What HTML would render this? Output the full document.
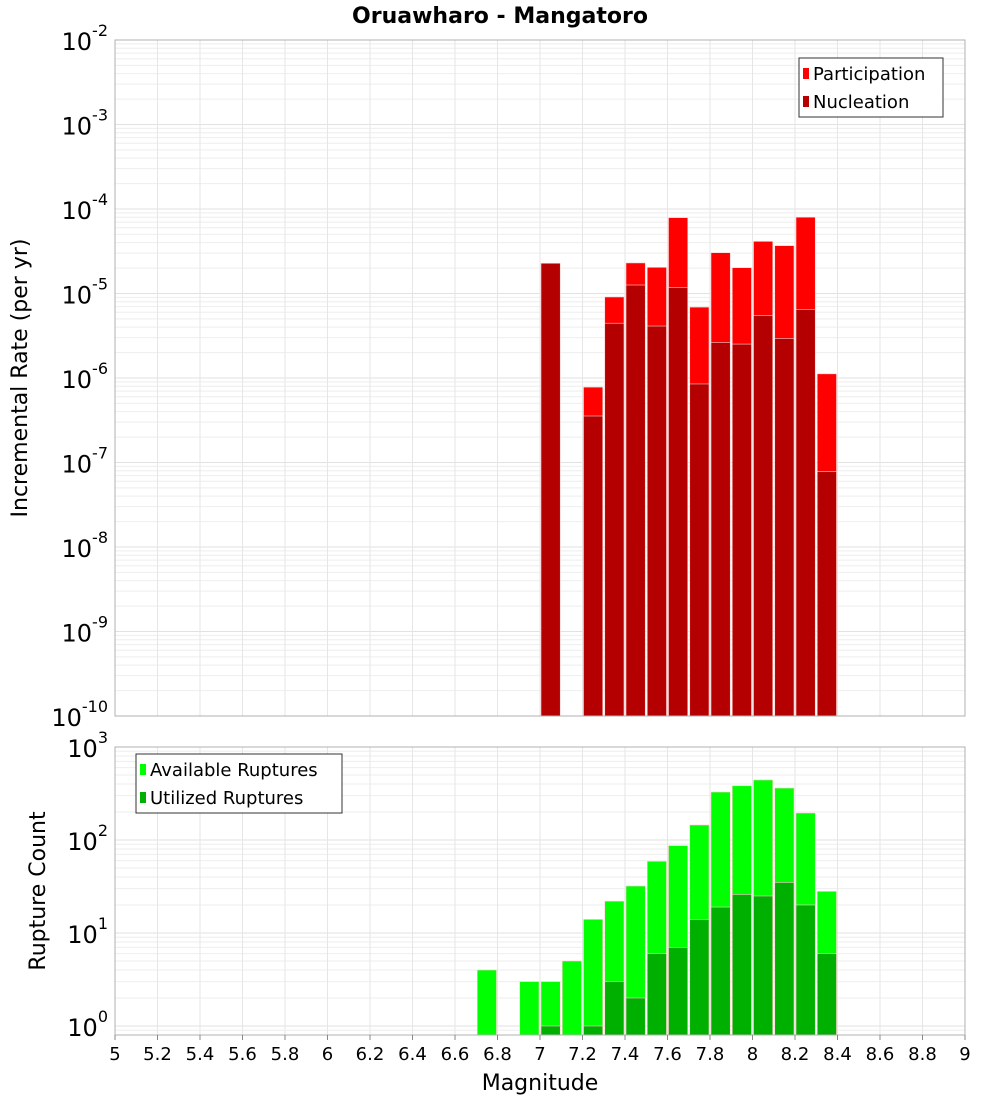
<!DOCTYPE html>
<html><head><meta charset="utf-8">
<style>
body{margin:0;background:#fff;}
svg{display:block;font-family:"DejaVu Sans","Liberation Sans",sans-serif;}
</style></head>
<body>
<svg id="chart" width="1000" height="1100" viewBox="0 0 1000 1100" xmlns="http://www.w3.org/2000/svg">
<text x="500" y="23" text-anchor="middle" font-size="22" font-weight="bold">Oruawharo - Mangatoro</text>
<g id="top"></g>
<g id="bot"></g>
<text transform="translate(27,378) rotate(-90)" text-anchor="middle" font-size="22">Incremental Rate (per yr)</text>
<text transform="translate(45,891) rotate(-90)" text-anchor="middle" font-size="22">Rupture Count</text>
<text x="540" y="1090" text-anchor="middle" font-size="22">Magnitude</text>
</svg>
<script>
const mags = [7.0,7.1,7.2,7.3,7.4,7.5,7.6,7.7,7.8,7.9,8.0,8.1,8.2,8.3];
const participation = [2.28e-5,0,7.8e-7,9.1e-6,2.3e-5,2.04e-5,7.9e-5,6.9e-6,3.04e-5,2.02e-5,4.14e-5,3.68e-5,8.0e-5,1.12e-6];
const nucleation = [2.28e-5,0,3.55e-7,4.45e-6,1.26e-5,4.12e-6,1.18e-5,8.5e-7,2.64e-6,2.52e-6,5.5e-6,2.95e-6,6.5e-6,7.8e-8];
const countMags = [6.7,6.8,6.9,7.0,7.1,7.2,7.3,7.4,7.5,7.6,7.7,7.8,7.9,8.0,8.1,8.2,8.3];
const available = [4,0,3,3,5,14,22,32,59,87,145,328,383,442,362,195,28];
const utilized = [0,0,0,1,0,1,3,2,6,7,14,19,26,25,35,20,6];
const xTicks = [5,5.2,5.4,5.6,5.8,6,6.2,6.4,6.6,6.8,7,7.2,7.4,7.6,7.8,8,8.2,8.4,8.6,8.8,9];
const topExps = [-2,-3,-4,-5,-6,-7,-8,-9,-10];
const botExps = [3,2,1,0];

const NS="http://www.w3.org/2000/svg";
const X0=115,X1=965;
const xs=m=>X0+(m-5)/4*(X1-X0);
const T={top:40,bot:716,lmax:-2,lmin:-10};
const B={top:747,bot:1035,lmax:3,lmin:-0.097};
const ys=(P,v)=>P.top+(P.lmax-Math.log10(v))/(P.lmax-P.lmin)*(P.bot-P.top);
function mk(tag,attrs,parent,txt){const e=document.createElementNS(NS,tag);for(const k in attrs)e.setAttribute(k,attrs[k]);if(txt!==undefined)e.textContent=txt;parent.appendChild(e);return e;}

function panel(g,P,exps,nm){
  // minor grid
  for(let d=Math.floor(P.lmin);d<P.lmax;d++){for(let k=1;k<10;k++){const v=k*Math.pow(10,d);const lv=Math.log10(v);if(lv<P.lmin||lv>P.lmax)continue;const y=ys(P,v);
    const l=mk('line',{x1:X0,x2:X1,y1:y,y2:y,stroke:k==1?'#e2e2e2':'#eeeeee','stroke-width':1},g);
    }}
  xTicks.forEach(t=>{const x=xs(t);const l=mk('line',{x1:x,x2:x,y1:P.top,y2:P.bot,stroke:'#e6e6e6','stroke-width':1},g);
    });
  exps.forEach(e=>{const y=ys(P,Math.pow(10,e));const t=mk('text',{x:108,y:y+10,'text-anchor':'end','font-size':24},g);
    
    mk('tspan',{},t,'10');mk('tspan',{dy:-14,'font-size':16},t,String(e));});
}
const gt=document.getElementById('top'),gb=document.getElementById('bot');
panel(gt,T,topExps,'rate');panel(gb,B,botExps,'count');

function bars(g,P,ms,vals,color,nm){
  ms.forEach((m,i)=>{const v=vals[i];if(!v)return;const x=xs(m)+1,w=xs(m+0.1)-xs(m)-2;const y=Math.max(ys(P,v),P.top);
    const r=mk('rect',{x:x,y:y,width:w,height:P.bot-y,fill:color,stroke:'#ffd0d0','stroke-width':0.6},g);
    });
}
bars(gt,T,mags,participation,'#ff0000','participation');
bars(gt,T,mags,nucleation,'#b40000','nucleation');
bars(gb,B,countMags,available,'#00ff00','available');
bars(gb,B,countMags,utilized,'#00b000','utilized');

[T,B].forEach((P,i)=>{const r=mk('rect',{x:X0,y:P.top,width:X1-X0,height:P.bot-P.top,fill:'none',stroke:'#b0b0b0','stroke-width':1},i?gb:gt);
  });

xTicks.forEach(t=>{const x=xs(t);const tx=mk('text',{x:x,y:1060,'text-anchor':'middle','font-size':18},gb,String(t));
  
  const tk=mk('line',{x1:x,x2:x,y1:1035,y2:1040,stroke:'#888'},gb);});

function legend(g,x,y,w,items,nm){
  const lg=mk('g',{},g);
  mk('rect',{x:x,y:y,width:w,height:59,fill:'#fff',stroke:'#333','stroke-width':1},lg);
  items.forEach((it,i)=>{const e=mk('g',{},lg);
    mk('rect',{x:x+4,y:y+10+i*28,width:6,height:11,fill:it[1]},e);
    mk('text',{x:x+14,y:y+22+i*28,'font-size':18},e,it[0]);});
}
legend(gt,799,58,144,[['Participation','#ff0000'],['Nucleation','#b40000']],'rate-legend');
legend(gb,136,754,206,[['Available Ruptures','#00ff00'],['Utilized Ruptures','#00b000']],'count-legend');
</script>
</body></html>
